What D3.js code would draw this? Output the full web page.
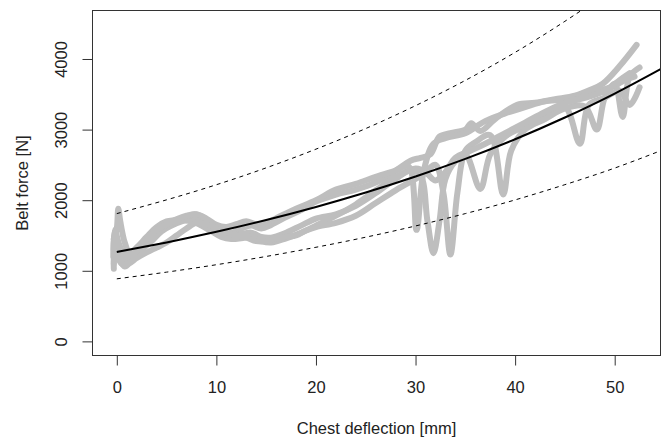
<!DOCTYPE html>
<html>
<head>
<meta charset="utf-8">
<script src="https://cdn.jsdelivr.net/npm/d3@7"></script>
<style>
  html, body { margin: 0; padding: 0; background: #fff; }
  text { font-family: "Liberation Sans", Arial, sans-serif; fill: #222; }
</style>
</head>
<body>
<script>
// ---------- data ----------
const xLabel = "Chest deflection [mm]";
const yLabel = "Belt force [N]";
const xTicks = [0, 10, 20, 30, 40, 50];
const yTicks = [0, 1000, 2000, 3000, 4000];
const xDomain = [-2.44, 54.6];
const yDomain = [-200, 4687];

// fitted curve and band
const fitX     = [0, 5, 10, 15, 20, 25, 30, 35, 40, 45, 50, 55];
const fitMid   = [1266, 1402, 1552, 1719, 1904, 2108, 2335, 2585, 2863, 3171, 3511, 3888];
const fitUpper = [1810, 2005, 2219, 2458, 2723, 3015, 3339, 3697, 4094, 4534, 5020, 5560];
const fitLower = [886, 981, 1086, 1203, 1333, 1476, 1635, 1810, 2004, 2220, 2455, 2722];

// test traces [deflection mm, force N]
const trace1 = [[-0.3,1450],[0,1600],[0.15,1880],[0.35,1700],[0.8,1400],[1.3,1250],[2,1330],[3,1480],[4,1620],[5,1700],[6,1720],[7,1760],[7.8,1800],[8.6,1760],[9.5,1650],[10.5,1560],[11.5,1540],[12.5,1600],[13.5,1640],[14.5,1600],[15.5,1650],[17,1760],[18.5,1860],[20,1980],[22,2080],[24,2150],[26,2250],[28,2420],[29.5,2560],[30.5,2600],[31.5,2650],[32.4,2900],[33.5,2950],[35,3000],[35.6,3090],[36.5,2980],[38,3150],[40.2,3350],[42,3380],[44,3430],[46,3480],[47.5,3560],[48.8,3650],[50.5,3900],[52.2,4200]];
const trace2 = [[-0.3,1100],[-0.2,1400],[0.3,1150],[0.8,1060],[1.5,1150],[2.5,1300],[3.5,1420],[4.5,1560],[5.5,1640],[6.5,1700],[7.5,1740],[8.5,1720],[9.5,1620],[10.5,1540],[11.5,1500],[12.5,1520],[13.5,1540],[14.5,1480],[15.5,1470],[17,1540],[18.5,1640],[20,1740],[22,1800],[24,1920],[26,2100],[28,2300],[29.5,2420],[30.5,2350],[31.2,1700],[31.8,1250],[32.4,1700],[33,2300],[34,2550],[35,2650],[36.5,2160],[37.5,2650],[39,2900],[41,3050],[43,3200],[45,3320],[46.5,2800],[47.4,3350],[49,3450],[50.5,3550],[51.5,3350],[52.5,3600]];
const trace3 = [[-0.35,1200],[-0.25,1550],[0.2,1300],[0.7,1150],[1.5,1200],[2.5,1380],[3.5,1530],[4.5,1620],[5.5,1680],[6.5,1710],[7.5,1700],[8.5,1640],[9.5,1560],[10.5,1480],[11.5,1450],[12.5,1460],[13.5,1480],[14.5,1420],[15.5,1400],[17,1460],[18.5,1540],[20,1640],[22,1780],[24,1940],[26,2140],[28,2330],[30,2450],[31,2420],[32,2500],[32.8,2100],[33.5,1230],[34.2,2100],[35,2700],[36,2820],[37.5,2920],[38.8,2080],[39.6,2700],[41,3000],[43,3150],[45,3300],[47,3330],[48.2,3000],[49,3450],[50,3650],[50.8,3180],[51.5,3750],[52.5,3880]];
const trace4 = [[-0.3,1300],[-0.2,1580],[0.3,1350],[1,1200],[2,1280],[3,1450],[4,1580],[5,1660],[6,1730],[7,1780],[8,1800],[9,1740],[10,1650],[11,1620],[12,1660],[13,1700],[14,1660],[15,1680],[16.5,1780],[18,1880],[20,2000],[22,2150],[24,2230],[26,2330],[28,2420],[29.3,2480],[30.1,1580],[30.8,2400],[31.8,2800],[33,2880],[35,2950],[37,3120],[39,3230],[41,3320],[43,3400],[45,3420],[46,3420],[47.2,3500],[48.5,3550],[50,3620],[51,3700],[52,3750]];
const trace5 = [[-0.3,1030],[-0.2,1250],[0.5,1100],[1.2,1100],[2,1180],[3,1260],[4,1330],[5,1400],[6,1500],[7,1600],[8,1680],[9,1660],[10,1600],[11,1550],[12,1500],[13,1470],[14,1420],[15,1420],[16,1460],[17,1480],[18,1500],[19,1570],[20,1620],[22,1680],[24,1780],[26,1960],[28,2140],[30,2300],[31,2380],[32,2280],[33,2400],[34,2600],[35.5,2700],[37,2800],[39,2950],[41,3100],[43,3250],[45,3380],[47,3450],[49,3550],[50.5,3700],[51.5,3800]];
const traces = [trace1, trace2, trace3, trace4, trace5];

// ---------- drawing ----------
const W = 664, H = 439;
const box = { left: 92.5, right: 660.5, top: 10.5, bottom: 355.5 };
const FS = 16.5;

const svg = d3.select("body").append("svg")
  .attr("width", W).attr("height", H)
  .style("display", "block");
svg.append("rect").attr("width", W).attr("height", H).attr("fill", "#fff");

const x = d3.scaleLinear().domain(xDomain).range([box.left, box.right]);
const y = d3.scaleLinear().domain(yDomain).range([box.bottom, box.top]);

svg.append("clipPath").attr("id", "plotclip")
  .append("rect")
  .attr("x", box.left).attr("y", box.top)
  .attr("width", box.right - box.left).attr("height", box.bottom - box.top);

const plot = svg.append("g").attr("clip-path", "url(#plotclip)");

const traceLine = d3.line().x(d => x(d[0])).y(d => y(d[1])).curve(d3.curveCatmullRom.alpha(0.5));
plot.selectAll("path.trace").data(traces).join("path")
  .attr("class", "trace")
  .attr("d", traceLine)
  .attr("fill", "none")
  .attr("stroke", "#bebebe")
  .attr("stroke-width", 6)
  .attr("stroke-linecap", "round")
  .attr("stroke-linejoin", "round");

const fitLine = vals => d3.line().x((d, i) => x(fitX[i])).y(d => y(d)).curve(d3.curveNatural)(vals);
plot.append("path").attr("d", fitLine(fitUpper)).attr("fill", "none")
  .attr("stroke", "#000").attr("stroke-width", 1).attr("stroke-dasharray", "4,4");
plot.append("path").attr("d", fitLine(fitLower)).attr("fill", "none")
  .attr("stroke", "#000").attr("stroke-width", 1).attr("stroke-dasharray", "4,4");
plot.append("path").attr("d", fitLine(fitMid)).attr("fill", "none")
  .attr("stroke", "#000").attr("stroke-width", 2);

// box
svg.append("rect")
  .attr("x", box.left).attr("y", box.top)
  .attr("width", box.right - box.left).attr("height", box.bottom - box.top)
  .attr("fill", "none").attr("stroke", "#333").attr("stroke-width", 1);

// x axis
const gx = svg.append("g").attr("transform", `translate(0,${box.bottom})`)
  .call(d3.axisBottom(x).tickValues(xTicks).tickFormat(d3.format("d")).tickSizeInner(10).tickSizeOuter(0).tickPadding(15.5));
gx.select(".domain").remove();
gx.selectAll(".tick line").attr("stroke", "#333");
gx.selectAll(".tick text").style("font-size", FS + "px").attr("fill", "#222")
  .style("font-family", "'Liberation Sans', Arial, sans-serif");

// y axis
const gy = svg.append("g").attr("transform", `translate(${box.left},0)`)
  .call(d3.axisLeft(y).tickValues(yTicks).tickFormat(d3.format("d")).tickSizeInner(10).tickSizeOuter(0));
gy.select(".domain").remove();
gy.selectAll(".tick line").attr("stroke", "#333");
gy.selectAll(".tick text")
  .attr("x", 0).attr("y", -25.8).attr("dy", null)
  .attr("transform", "rotate(-90)")
  .attr("text-anchor", "middle")
  .style("font-size", FS + "px").attr("fill", "#222")
  .style("font-family", "'Liberation Sans', Arial, sans-serif");

// titles
svg.append("text")
  .attr("x", (box.left + box.right) / 2).attr("y", 433.5)
  .attr("text-anchor", "middle").style("font-size", FS + "px")
  .text(xLabel);
svg.append("text")
  .attr("transform", `translate(28.3,${(box.top + box.bottom) / 2}) rotate(-90)`)
  .attr("text-anchor", "middle").style("font-size", FS + "px")
  .text(yLabel);
</script>
</body>
</html>
